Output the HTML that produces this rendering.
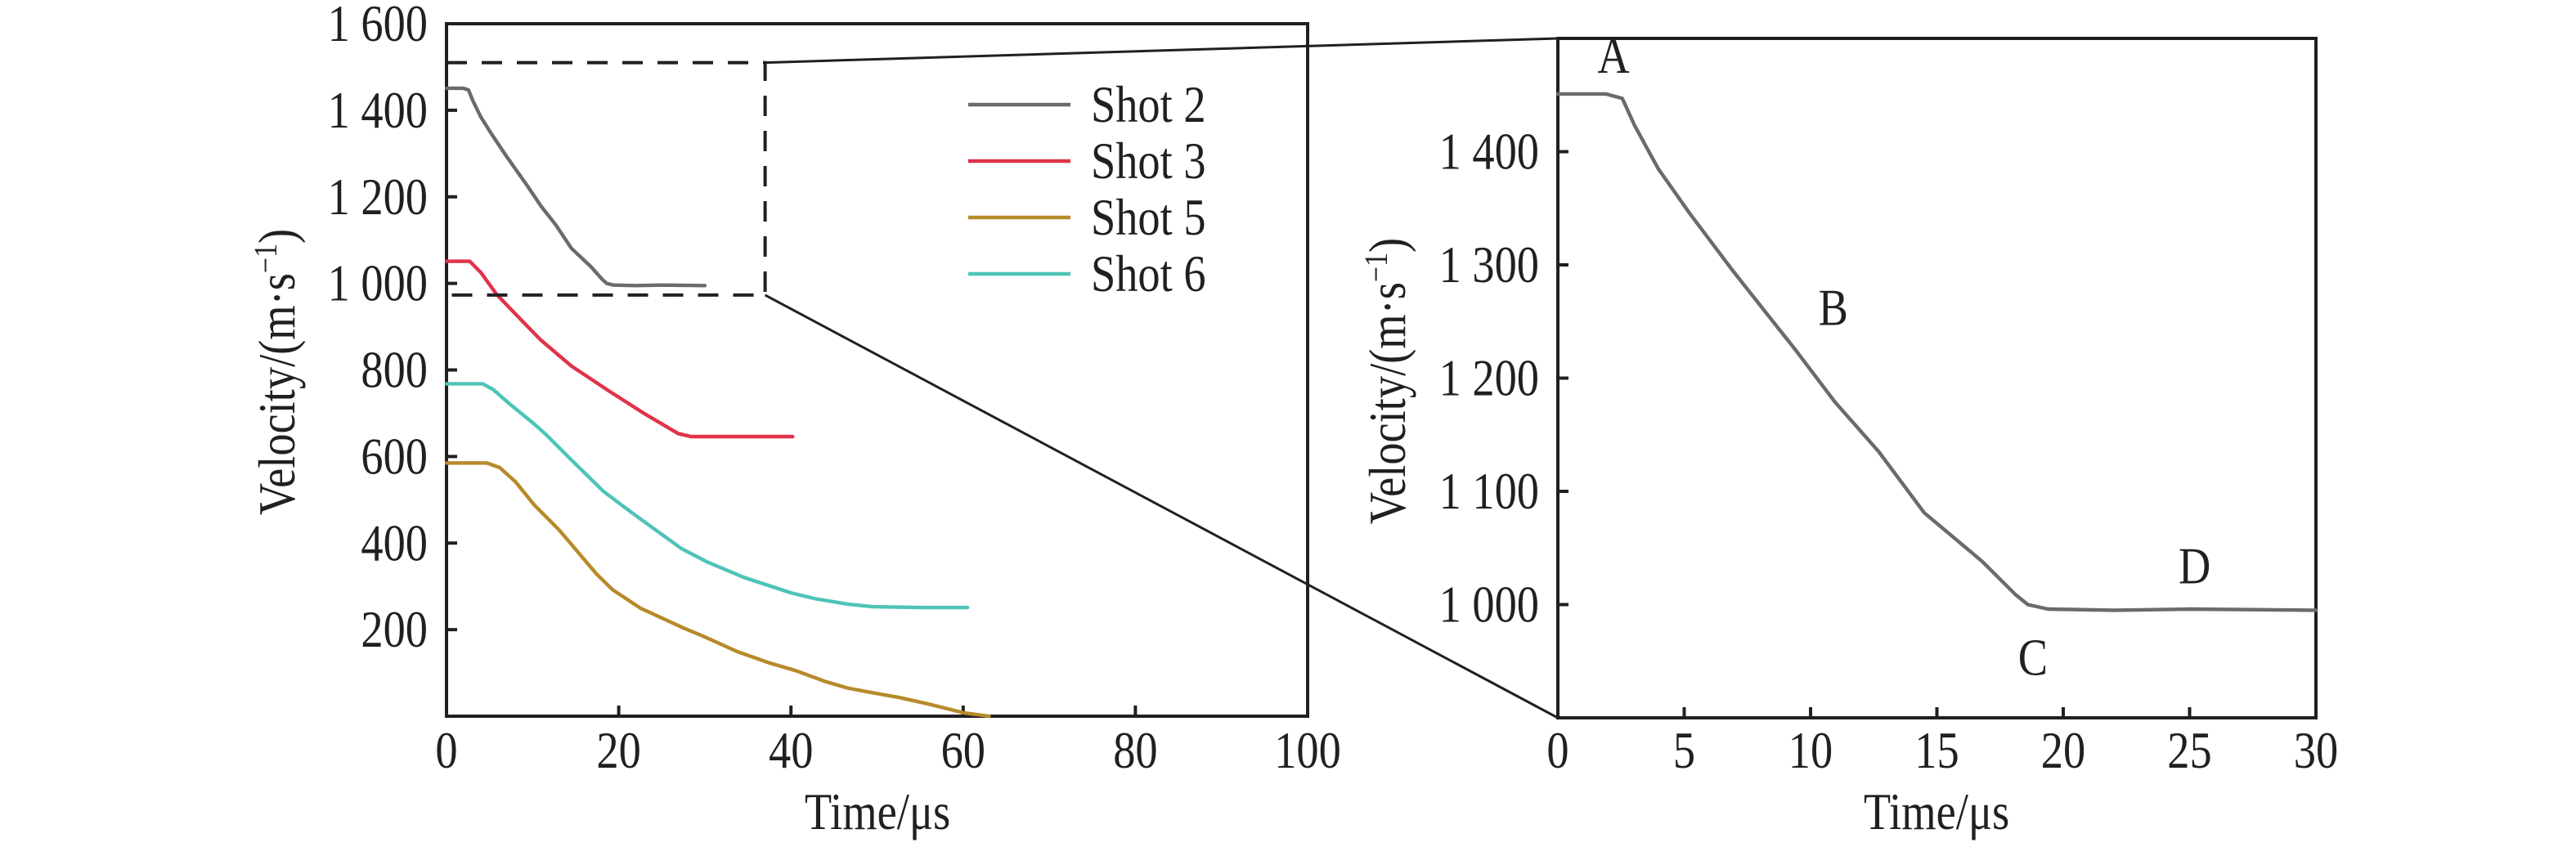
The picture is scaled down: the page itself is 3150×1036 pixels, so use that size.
<!DOCTYPE html>
<html><head><meta charset="utf-8">
<style>
html,body{margin:0;padding:0;background:#fff;}
svg{display:block;}
text{font-family:"Liberation Serif","DejaVu Serif",serif;fill:#231f20;}
</style></head>
<body>
<svg id="chart" width="3150" height="1036" viewBox="0 0 3150 1036" xmlns="http://www.w3.org/2000/svg"></svg>
<script>
// ---- data ----
const shot2T = [0,1.9,2.55,3.04,3.97,5.2,6.95,9.4,10.96,12.7,14.5,16.8,18.1,18.6,19.4,22,25,30];
const shot2V = [1451,1451,1447,1423,1385,1346,1294,1225,1179,1135,1081,1038,1009,1000,996,995,996,995];
const shot3T = [0,2.7,4.0,5.8,8.4,10.9,14.5,18.9,22.9,26.9,28.4,32,36,40.2];
const shot3V = [1051,1051,1025,975,921,870,809,751,700,653,646,646,646,646];
const shot5T = [0,4.7,6.2,8.0,10.2,13.1,14.5,17.4,19.3,22.5,27.6,29.8,33.8,37.5,40.6,44.0,46.6,49.5,52.6,56,60,63];
const shot5V = [585,585,574,542,488,430,397,329,292,250,203,185,149,123,105,80,65,54,43,28,8,0];
const shot6T = [0,4.2,5.4,7.3,10.2,11.6,14.5,18.2,21.8,27.3,30.2,34.5,40.0,42.9,46.6,49.5,55,60.5];
const shot6V = [768,768,755,722,675,650,592,520,466,387,357,321,285,271,259,253,251,251];
const seriesNames = ["Shot 2","Shot 3","Shot 5","Shot 6"];
const leftXTicks = [0,20,40,60,80,100];
const leftYTicks = [200,400,600,800,1000,1200,1400,1600];
const leftYLabels = ["200","400","600","800","1 000","1 200","1 400","1 600"];
const rightXTicks = [0,5,10,15,20,25,30];
const rightYTicks = [1000,1100,1200,1300,1400];
const rightYLabels = ["1 000","1 100","1 200","1 300","1 400"];
const zoomBoxT = [0,37];
const zoomBoxV = [973,1510];
const pointLabels = ["A","B","C","D"];
const pointLabelT = [2.2,10.9,18.8,25.2];
const pointLabelV = [1485,1262,953,1034];

const colors = ["#6b6b6b","#e03349","#b78a2a","#4fc3b8"];
const NS = "http://www.w3.org/2000/svg";
const svg = document.getElementById('chart');
function el(tag, attrs, parent){const e=document.createElementNS(NS,tag);for(const k in attrs)e.setAttribute(k,attrs[k]);(parent||svg).appendChild(e);return e;}
const FS=64, SX=0.85;
function txt(x,y,anchor,parent,rot){
  const tr = rot ? `translate(${x} ${y}) rotate(-90) scale(${SX} 1)` : `translate(${x} ${y}) scale(${SX} 1)`;
  return el('text',{x:0,y:0,'font-size':FS,'text-anchor':anchor,transform:tr},parent);
}

const L = {x0:546,x1:1599,y0:876,y1:29,tmin:0,tmax:100,vmin:0,vmax:1600};
const R = {x0:1905,x1:2832,y0:878,y1:47,tmin:0,tmax:30,vmin:900,vmax:1500};
const sx=(a,t)=>a.x0+(t-a.tmin)/(a.tmax-a.tmin)*(a.x1-a.x0);
const sy=(a,v)=>a.y0-(v-a.vmin)/(a.vmax-a.vmin)*(a.y0-a.y1);

function line(a, T, V, color, name){
  let d='';
  for(let i=0;i<T.length;i++){ if(T[i]>a.tmax) break; d+=(i?'L':'M')+sx(a,T[i]).toFixed(1)+','+sy(a,V[i]).toFixed(1); }
  const p=el('path',{d:d,fill:'none',stroke:color,'stroke-width':4.4,'stroke-linejoin':'round','stroke-linecap':'round'});
  
  
}

function axes(a, xt, xl, yt, yl, prefix){
  const g=el('g',{});
  
  
  el('rect',{x:a.x0,y:a.y1,width:a.x1-a.x0,height:a.y0-a.y1,fill:'none',stroke:'#231f20','stroke-width':4},g);
  xt.forEach((t,i)=>{
    const x=sx(a,t);
    if(i>0&&i<xt.length-1) el('line',{x1:x,x2:x,y1:a.y0,y2:a.y0-13,stroke:'#231f20','stroke-width':4},g);
    const tx=txt(x,939,'middle',g);
    tx.textContent=xl[i];
    
    
  });
  yt.forEach((v,i)=>{
    const y=sy(a,v);
    if(y>a.y1+2) el('line',{x1:a.x0,x2:a.x0+13,y1:y,y2:y,stroke:'#231f20','stroke-width':4},g);
    const tx=txt(a.x0-23,y+21,'end',g);
    tx.textContent=yl[i];
    
    
  });
}

axes(L, leftXTicks, leftXTicks.map(String), leftYTicks, leftYLabels, 'left');
axes(R, rightXTicks, rightXTicks.map(String), rightYTicks, rightYLabels, 'right');

function title(x,y,rot,s,name,sup){
  const t=txt(x,y,'middle',null,rot);
  
  
  if(sup){
    t.appendChild(document.createTextNode('Velocity/(m·s'));
    const s1=el('tspan',{dy:-22,'font-size':40},t); s1.textContent='−1';
    const s2=el('tspan',{dy:22},t); s2.textContent=')';
  } else t.textContent=s;
}
title(1073,1014,false,'Time/μs','left-x-axis-title');
title(2368,1014,false,'Time/μs','right-x-axis-title');
title(360,455,true,'','left-y-axis-title',true);
title(1718,466,true,'','right-y-axis-title',true);

const allT=[shot2T,shot3T,shot5T,shot6T], allV=[shot2V,shot3V,shot5V,shot6V];
allT.forEach((T,i)=>line(L,T,allV[i],colors[i],'left-series-'+seriesNames[i].toLowerCase().replace(' ','-')));
line(R,shot2T,shot2V,colors[0],'right-series-shot-2');

const bx0=sx(L,zoomBoxT[0]), bx1=sx(L,zoomBoxT[1]), byTop=sy(L,zoomBoxV[1]), byBot=sy(L,zoomBoxV[0]);
const zb=el('path',{d:`M${bx0},${byTop}L${bx1},${byTop}L${bx1},${byBot}L${bx0},${byBot}`,fill:'none',stroke:'#231f20','stroke-width':4,'stroke-dasharray':'25 18'});


const c1=el('line',{x1:bx1,y1:byTop,x2:R.x0,y2:R.y1,stroke:'#231f20','stroke-width':3});


const c2=el('line',{x1:bx1,y1:byBot,x2:R.x0,y2:R.y0,stroke:'#231f20','stroke-width':3});



const legY=[128,197,266,335];
seriesNames.forEach((n,i)=>{
  const g=el('g',{});
  
  
  el('line',{x1:1184,x2:1309,y1:legY[i],y2:legY[i],stroke:colors[i],'stroke-width':4.4},g);
  const t=txt(1334,legY[i]+21,'start',g); t.textContent=n;
});

pointLabels.forEach((p,i)=>{
  const t=txt(sx(R,pointLabelT[i]),sy(R,pointLabelV[i])+21,'middle');
  t.textContent=p;
  
  
});
</script>
</body></html>
